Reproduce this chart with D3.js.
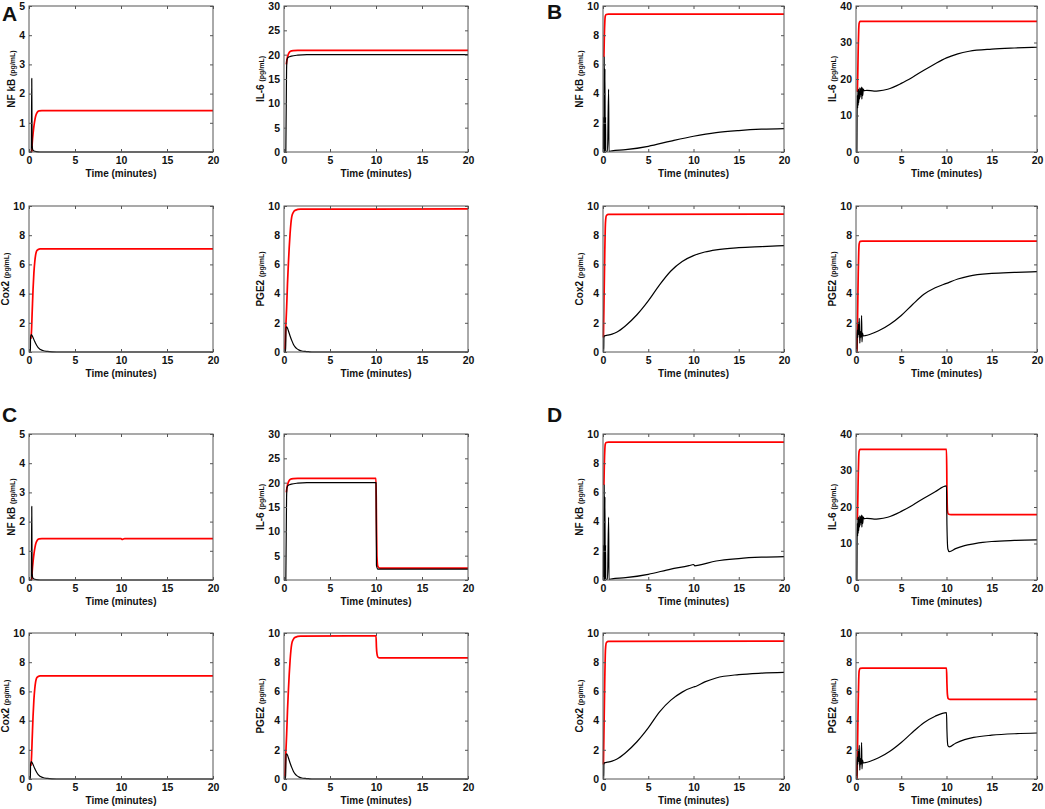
<!DOCTYPE html>
<html>
<head>
<meta charset="utf-8">
<script src="https://cdn.jsdelivr.net/npm/d3@7"></script>
<style>
  body { margin: 0; background: #fff; }
  text { font-family: Arial, "Liberation Sans", sans-serif; font-weight: bold; fill: #111; }
</style>
</head>
<body>
<div id="chart"></div>
<script>
// tick values and labels
const xTicks = [0, 5, 10, 15, 20];
const yNames = ["NF kB", "IL-6", "Cox2", "PGE2"];
const yUnit = "(pg/mL)";
const xName = "Time (minutes)";
const letters = ["A", "B", "C", "D"];
const yMaxLow = [5, 30, 10, 10];    // panels A and C
const yStepLow = [1, 5, 2, 2];
const yMaxHigh = [10, 40, 10, 10];  // panels B and D
const yStepHigh = [2, 10, 2, 2];

// ---- panel A series, [time, value] ----
const aNfkbRed = [[0.3,0],[0.35,0.3],[0.45,0.65],[0.55,0.92],[0.65,1.12],[0.75,1.26],[0.9,1.36],[1.1,1.41],[1.4,1.42],[20,1.42]];
const aNfkbBlack = [[0,0],[0.25,0],[0.3,2.52],[0.34,0.2],[0.45,0.05],[0.8,0.01],[1.2,0],[20,0]];
const aIl6Red = [[0.25,18],[0.35,19.3],[0.5,20.2],[0.7,20.7],[1,20.85],[1.5,20.9],[20,20.9]];
const aIl6Black = [[0.2,0],[0.25,11],[0.28,17],[0.33,19],[0.5,19.5],[0.8,19.7],[1.5,19.9],[2.5,20],[20,20]];
const aCox2Red = [[0.2,0.9],[0.26,1.3],[0.35,2.8],[0.44,4.3],[0.53,5.4],[0.63,6.2],[0.72,6.65],[0.81,6.9],[1.0,7.02],[1.2,7.07],[20,7.07]];
const aCox2Black = [[0,0],[0.15,0],[0.17,1.0],[0.25,1.2],[0.4,1.05],[0.6,0.75],[0.8,0.5],[1.0,0.3],[1.5,0.1],[2.0,0.04],[2.5,0.01],[3,0],[20,0]];
const aPge2Red = [[0.08,0],[0.11,0.4],[0.2,1.8],[0.29,3.1],[0.38,4.7],[0.48,6.1],[0.57,7.2],[0.66,8.1],[0.75,8.8],[0.84,9.25],[1.0,9.55],[1.2,9.7],[1.8,9.78],[20,9.8]];
const aPge2Black = [[0,0],[0.18,0],[0.22,1.7],[0.3,1.72],[0.4,1.6],[0.53,1.35],[0.66,1.1],[0.85,0.78],[1.03,0.52],[1.2,0.35],[1.39,0.23],[1.65,0.13],[1.94,0.07],[2.3,0.04],[2.67,0.02],[3.2,0],[20,0]];

// ---- panel B series ----
const bNfkbRed = [[0.1,6.5],[0.15,8.0],[0.2,8.9],[0.25,9.3],[0.35,9.42],[0.6,9.45],[20,9.45]];
const bNfkbBlack = [[0,0],[0.04,0],[0.06,2.4],[0.08,0],[0.1,0],[0.13,6.5],[0.16,0.1],[0.18,0],[0.21,5.7],[0.25,0.1],[0.28,2.4],[0.3,0.05],[0.5,0.05],[0.62,4.3],[0.66,0.05],[1,0.08],[2.5,0.16],[5,0.39],[7.5,0.75],[10,1.08],[12.5,1.33],[15,1.47],[17.5,1.56],[20,1.6]];
const bIl6Red = [[0.15,16.5],[0.2,22],[0.25,29],[0.3,33.5],[0.35,35.3],[0.45,35.8],[20,35.8]];
const bIl6Black = [[0,0],[0.1,0],[0.12,10],[0.15,15.5],[0.18,12],[0.21,16.8],[0.24,12.8],[0.27,17.2],[0.3,13.5],[0.34,16.5],[0.38,14.5],[0.42,17.6],[0.46,15],[0.5,17.3],[0.55,15.8],[0.6,17.8],[0.65,14.5],[0.7,17.6],[0.75,15.5],[0.8,17.2],[0.9,16.8],[1.2,16.9],[2,16.7],[2.5,16.75],[3.5,17.2],[5,18.8],[6.25,20.5],[7.5,22.4],[8.75,24.2],[10,25.8],[11.25,26.9],[12.5,27.6],[15,28.2],[17.5,28.5],[20,28.7]];
const bCox2Red = [[0.05,1.0],[0.1,3],[0.15,5],[0.2,7],[0.25,8.5],[0.3,9.1],[0.38,9.35],[0.6,9.42],[20,9.45]];
const bCox2Black = [[0,0],[0.08,0],[0.1,1.0],[0.2,1.12],[0.5,1.15],[1,1.22],[1.5,1.35],[2.5,1.8],[3.75,2.55],[5,3.5],[6.25,4.6],[7.5,5.55],[8.75,6.2],[10,6.6],[11.25,6.85],[12.5,7.0],[15,7.15],[17.5,7.22],[20,7.28]];
const bPge2Red = [[0.1,0],[0.15,1.5],[0.2,3.5],[0.25,5.5],[0.3,6.8],[0.35,7.4],[0.45,7.58],[0.7,7.6],[20,7.6]];
const bPge2Black = [[0,0],[0.1,0],[0.12,1.0],[0.16,1.5],[0.2,1.0],[0.26,2.0],[0.3,1.2],[0.36,2.3],[0.42,0.6],[0.48,1.4],[0.55,1.0],[0.62,2.5],[0.66,0.7],[0.72,1.3],[0.8,1.1],[1,1.12],[1.5,1.2],[2.5,1.45],[3.75,1.9],[5,2.5],[6.25,3.25],[7.5,3.95],[8.75,4.4],[10,4.7],[11.25,5.0],[12.5,5.2],[15,5.38],[17.5,5.45],[20,5.5]];

// ---- panel C series ----
const cNfkbRed = [[0.3,0],[0.35,0.3],[0.45,0.65],[0.55,0.92],[0.65,1.12],[0.75,1.26],[0.9,1.36],[1.1,1.41],[1.4,1.42],[10,1.42],[10.1,1.39],[10.4,1.42],[20,1.42]];
const cNfkbBlack = aNfkbBlack;
const cIl6Red = [[0.25,18],[0.35,19.3],[0.5,20.2],[0.7,20.7],[1,20.85],[1.5,20.9],[10,20.9],[10.05,12],[10.1,5],[10.2,2.8],[10.4,2.45],[20,2.45]];
const cIl6Black = [[0.2,0],[0.25,11],[0.28,17],[0.33,19],[0.5,19.5],[0.8,19.7],[1.5,19.9],[2.5,20],[10,20],[10.05,3],[10.2,2.25],[20,2.25]];
const cCox2Red = aCox2Red;
const cCox2Black = aCox2Black;
const cPge2Red = [[0.08,0],[0.11,0.4],[0.2,1.8],[0.29,3.1],[0.38,4.7],[0.48,6.1],[0.57,7.2],[0.66,8.1],[0.75,8.8],[0.84,9.25],[1.0,9.55],[1.2,9.7],[1.8,9.78],[10,9.8],[10.05,9.0],[10.1,8.6],[10.2,8.35],[10.4,8.3],[20,8.3]];
const cPge2Black = aPge2Black;

// ---- panel D series ----
const dNfkbRed = bNfkbRed;
const dNfkbBlack = [[0,0],[0.04,0],[0.06,2.4],[0.08,0],[0.1,0],[0.13,6.5],[0.16,0.1],[0.18,0],[0.21,5.7],[0.25,0.1],[0.28,2.4],[0.3,0.05],[0.5,0.05],[0.62,4.3],[0.66,0.05],[1,0.08],[2.5,0.16],[5,0.39],[7.5,0.75],[9.5,0.98],[10,1.06],[10.15,0.97],[10.6,1.02],[12.5,1.3],[15,1.47],[17.5,1.56],[20,1.6]];
const dIl6Red = [[0.15,16.5],[0.2,22],[0.25,29],[0.3,33.5],[0.35,35.3],[0.45,35.8],[10,35.8],[10.05,25],[10.1,19],[10.2,18.1],[10.5,17.9],[20,17.9]];
const dIl6Black = [[0,0],[0.1,0],[0.12,10],[0.15,15.5],[0.18,12],[0.21,16.8],[0.24,12.8],[0.27,17.2],[0.3,13.5],[0.34,16.5],[0.38,14.5],[0.42,17.6],[0.46,15],[0.5,17.3],[0.55,15.8],[0.6,17.8],[0.65,14.5],[0.7,17.6],[0.75,15.5],[0.8,17.2],[0.9,16.8],[1.2,16.9],[2,16.7],[2.5,16.75],[3.5,17.2],[5,18.8],[6.25,20.5],[7.5,22.4],[8.75,24.2],[10,25.8],[10.05,15],[10.15,8.5],[10.3,7.8],[11,8.6],[12,9.4],[13,9.9],[14,10.3],[15,10.55],[17.5,10.85],[20,11.0]];
const dCox2Red = bCox2Red;
const dCox2Black = [[0,0],[0.08,0],[0.1,1.0],[0.2,1.12],[0.5,1.15],[1,1.22],[1.5,1.35],[2.5,1.8],[3.75,2.55],[5,3.5],[6.25,4.6],[7.5,5.4],[8.75,5.95],[10,6.3],[10.3,6.35],[11.25,6.65],[12.5,6.92],[15,7.15],[17.5,7.25],[20,7.3]];
const dPge2Red = [[0.1,0],[0.15,1.5],[0.2,3.5],[0.25,5.5],[0.3,6.8],[0.35,7.4],[0.45,7.58],[0.7,7.6],[10,7.6],[10.05,6.5],[10.1,5.8],[10.2,5.5],[10.4,5.45],[20,5.45]];
const dPge2Black = [[0,0],[0.1,0],[0.12,1.0],[0.16,1.5],[0.2,1.0],[0.26,2.0],[0.3,1.2],[0.36,2.3],[0.42,0.6],[0.48,1.4],[0.55,1.0],[0.62,2.5],[0.66,0.7],[0.72,1.3],[0.8,1.1],[1,1.12],[1.5,1.2],[2.5,1.45],[3.75,1.9],[5,2.5],[6.25,3.2],[7.5,3.85],[8.75,4.3],[10,4.55],[10.05,3.3],[10.15,2.3],[10.3,2.2],[11,2.45],[12,2.7],[13,2.85],[15,3.0],[17.5,3.1],[20,3.15]];

const seriesRed = [
  [aNfkbRed, aIl6Red, aCox2Red, aPge2Red],
  [bNfkbRed, bIl6Red, bCox2Red, bPge2Red],
  [cNfkbRed, cIl6Red, cCox2Red, cPge2Red],
  [dNfkbRed, dIl6Red, dCox2Red, dPge2Red]
];
const seriesBlack = [
  [aNfkbBlack, aIl6Black, aCox2Black, aPge2Black],
  [bNfkbBlack, bIl6Black, bCox2Black, bPge2Black],
  [cNfkbBlack, cIl6Black, cCox2Black, cPge2Black],
  [dNfkbBlack, dIl6Black, dCox2Black, dPge2Black]
];

// layout (pixels)
const width = 1045, height = 809;
const colX = [29, 284, 603, 856];
const colW = [184, 184, 181, 181];
const rowY = [6, 206, 434, 633];
const rowH = 146;
const letterPos = [[2, 21], [547, 19], [2, 422], [547, 422]];

const svg = d3.select("#chart").append("svg")
  .attr("width", width)
  .attr("height", height);

letters.forEach((l, i) => {
  svg.append("text")
    .attr("x", letterPos[i][0])
    .attr("y", letterPos[i][1])
    .style("font-size", "21px")
    .text(l);
});

const axisColor = "#555";

function drawPanel(g, k) {
  // g: group index 0..3 (A..D), k: variable 0..3
  const col = (g % 2) * 2 + (k % 2);
  const row = Math.floor(g / 2) * 2 + Math.floor(k / 2);
  const x0 = colX[col], y0 = rowY[row], w = colW[col], h = rowH;
  const high = (g % 2) === 1;
  const yMax = high ? yMaxHigh[k] : yMaxLow[k];
  const yStep = high ? yStepHigh[k] : yStepLow[k];
  const yTicks = d3.range(0, yMax + yStep / 2, yStep);

  const x = d3.scaleLinear().domain([0, 20]).range([0, w]);
  const y = d3.scaleLinear().domain([0, yMax]).range([h, 0]);

  const p = svg.append("g").attr("transform", `translate(${x0},${y0})`);

  // lines: red first, black on top
  const line = d3.line().x(d => x(d[0])).y(d => y(d[1])).curve(d3.curveMonotoneX);
  p.append("path").datum(seriesRed[g][k])
    .attr("d", line).attr("fill", "none")
    .attr("stroke", "#ff0000").attr("stroke-width", 1.7)
    .attr("stroke-linejoin", "round");
  p.append("path").datum(seriesBlack[g][k])
    .attr("d", line).attr("fill", "none")
    .attr("stroke", "#000").attr("stroke-width", 1.2)
    .attr("stroke-linejoin", "round");

  // box
  p.append("rect").attr("width", w).attr("height", h)
    .attr("fill", "none").attr("stroke", axisColor).attr("stroke-width", 1);

  // axes with inward ticks on all sides
  p.append("g").attr("transform", `translate(0,${h})`)
    .call(d3.axisBottom(x).tickValues(xTicks).tickSize(-3).tickPadding(5).tickFormat(d3.format("d")));
  p.append("g")
    .call(d3.axisTop(x).tickValues(xTicks).tickSize(-3).tickFormat(""));
  const left = p.append("g")
    .call(d3.axisLeft(y).tickValues(yTicks).tickSize(-3).tickPadding(4).tickFormat(d3.format("d")));
  p.append("g").attr("transform", `translate(${w},0)`)
    .call(d3.axisRight(y).tickValues(yTicks).tickSize(-3).tickFormat(""));

  p.selectAll(".domain").remove();
  p.selectAll(".tick line").attr("stroke", axisColor);
  p.selectAll(".tick text")
    .style("font-size", "10.5px")
    .style("font-family", "Arial, 'Liberation Sans', sans-serif")
    .style("font-weight", "bold")
    .attr("fill", "#111");

  // x label
  p.append("text")
    .attr("x", w / 2).attr("y", h + 25)
    .attr("text-anchor", "middle")
    .style("font-size", "10px")
    .text(xName);

  // y label placed just left of the widest tick label
  const tickLeft = d3.min(left.selectAll("text").nodes(), n => n.getBBox().x);
  const yl = p.append("text")
    .attr("transform", `translate(${tickLeft - 4},${h / 2}) rotate(-90)`)
    .attr("text-anchor", "middle");
  yl.append("tspan").style("font-size", "10px").text(yNames[k] + " ");
  yl.append("tspan").style("font-size", "7px").text(yUnit);
}

for (let g = 0; g < 4; g++) {
  for (let k = 0; k < 4; k++) drawPanel(g, k);
}
</script>
</body>
</html>
